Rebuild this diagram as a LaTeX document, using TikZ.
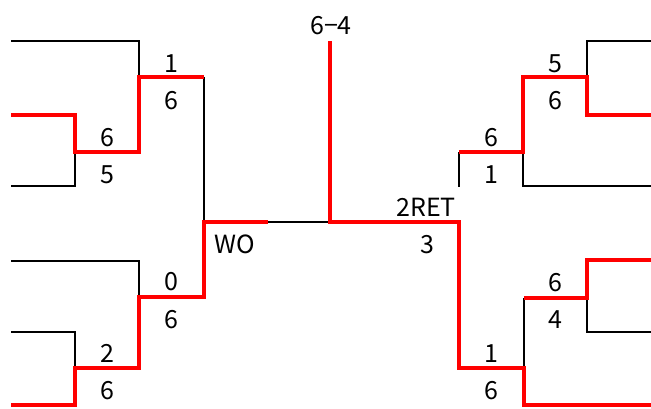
\documentclass[tikz,border=0pt]{standalone}
\usepackage{fontspec}
\newfontfamily\jpfont{Noto Sans CJK JP}
\begin{document}
\begin{tikzpicture}[x=1pt,y=-1pt,
  loser/.style={draw=black,line width=2.2pt,line join=miter},
  winner/.style={draw=red,line width=4pt,line join=miter},
  score/.style={font=\jpfont\fontsize{25}{25}\selectfont,anchor=base,inner sep=0pt}]
\useasboundingbox (0,0) rectangle (651,408);
% black (losing) lines
\draw[loser] (11,41) -- (139,41) -- (139,77);
\draw[loser] (11,186) -- (75,186) -- (75,152);
\draw[loser] (204,77) -- (204,222);
\draw[loser] (268,222) -- (330,222);
\draw[loser] (11,261) -- (139,261) -- (139,297);
\draw[loser] (11,332) -- (75,332) -- (75,368);
\draw[loser] (524,368) -- (524,298);
\draw[loser] (587,298) -- (587,332) -- (651,332);
\draw[loser] (459,152) -- (459,187);
\draw[loser] (523,152) -- (523,186) -- (651,186);
\draw[loser] (587,77) -- (587,41) -- (651,41);
% red (winning) lines
\draw[winner] (11,115) -- (75,115) -- (75,152) -- (139,152) -- (139,77) -- (204,77);
\draw[winner] (11,405) -- (75,405) -- (75,368) -- (139,368) -- (139,297) -- (204,297) -- (204,222) -- (268,222);
\draw[winner] (330,41) -- (330,222) -- (459,222) -- (459,368) -- (524,368) -- (524,405) -- (651,405);
\draw[winner] (524,298) -- (587,298) -- (587,260) -- (651,260);
\draw[winner] (459,152) -- (523,152) -- (523,77) -- (587,77) -- (587,115) -- (651,115);
% scores
\node[score] (s1) at (171,72) {1};
\node[score] (s2) at (171,109) {6};
\node[score] (s3) at (107,146) {6};
\node[score] (s4) at (107,183) {5};
\node[score] (s5) at (171,290) {0};
\node[score] (s6) at (171,328) {6};
\node[score] (s7) at (107,362) {2};
\node[score] (s8) at (107,399) {6};
\node[score] (s9) at (235,253) {WO};
\node[score] (s10) at (331,34) {6−4};
\node[score] (s11) at (426,216) {2RET};
\node[score] (s12) at (427,253) {3};
\node[score] (s13) at (555,72) {5};
\node[score] (s14) at (555,109) {6};
\node[score] (s15) at (491,146) {6};
\node[score] (s16) at (491,183) {1};
\node[score] (s17) at (555,291) {6};
\node[score] (s18) at (555,328) {4};
\node[score] (s19) at (491,362) {1};
\node[score] (s20) at (491,399) {6};
\end{tikzpicture}
\end{document}
